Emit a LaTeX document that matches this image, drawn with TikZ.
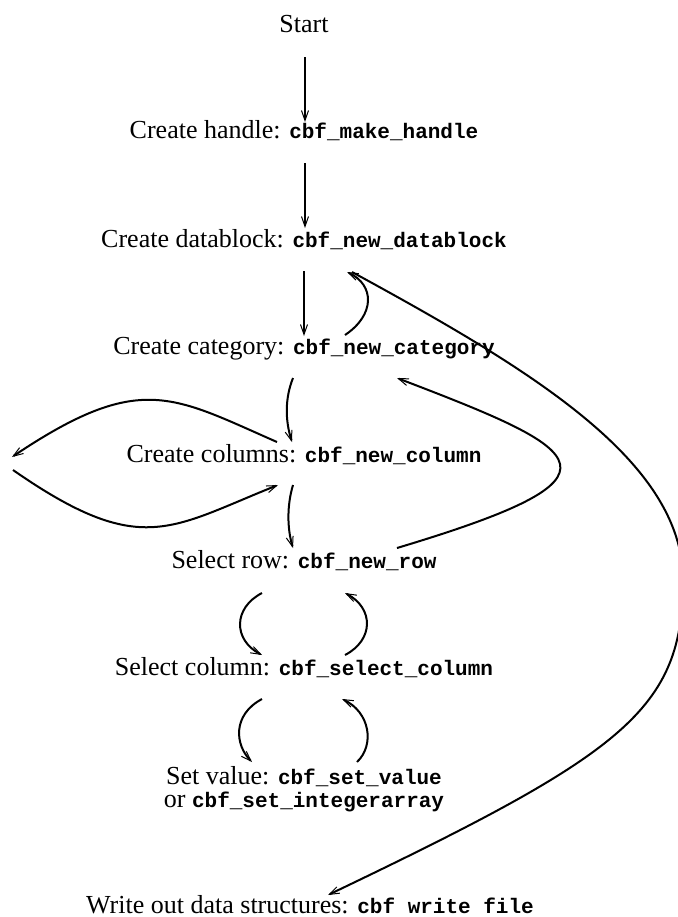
\documentclass[tikz,border=0pt]{standalone}
\usepackage{fontspec}
\setmainfont{Liberation Serif}
\setmonofont{Liberation Mono}
\usepackage{tikz}
\usetikzlibrary{calc,arrows.meta}

\newcommand{\cbf}[1]{{\fontsize{10.5}{11.5}\selectfont\ttfamily\bfseries #1}}

\begin{document}
\begin{tikzpicture}[x=0.5pt,y=-0.5pt,
            >={Straight Barb[length=5pt,width=3.5pt,line width=0.5pt]},
            lbl/.style={anchor=base,inner sep=0pt,font=\fontsize{13}{11.5}\selectfont},
            vline/.style={->,line width=1.4pt},
            cline/.style={->,line width=1pt}]
            \useasboundingbox (0,0) rectangle (677,917);

            \node[lbl] (start) at (304,32) {Start};
            \node[lbl] (handle) at (304,138) {Create handle: \cbf{cbf\_make\_handle}};
            \node[lbl] (dblock) at (304,247) {Create datablock: \cbf{cbf\_new\_datablock}};
            \node[lbl] (cat) at (304,354) {Create category: \cbf{cbf\_new\_category}};
            \node[lbl] (cols) at (304,462) {Create columns: \cbf{cbf\_new\_column}};
            \node[lbl] (row) at (304,568) {Select row: \cbf{cbf\_new\_row}};
            \node[lbl] (col) at (304,675) {Select column: \cbf{cbf\_select\_column}};
            % base is the last line here
            \node[lbl,align=center] (val) at (304,807) {Set value: \cbf{cbf\_set\_value}\\or \cbf{cbf\_set\_integerarray}};
            \node[lbl] (wfile) at (310,913) {Write out data structures: \cbf{cbf write file}};
            \coordinate (wa) at (12,457);
            \coordinate (wb) at (13,470);

            % straight down
            \draw[vline] ($(start.base)+(1,25)$) -- ($(handle.base)+(1,-16)$);
            \draw[vline] ($(handle.base)+(1,25)$) -- ($(dblock.base)+(1,-19)$);
            \draw[vline] ($(dblock.base)+(0,24)$) -- ($(cat.base)+(0,-18)$);

            \draw[cline] ($(cat.base)+(41,-19)$) .. controls (375,315) and (375,285) .. ($(dblock.base)+(43,25)$);
            \draw[cline] ($(dblock.base)+(48,25)$) .. controls (528,368) and (683,460) .. (683,580)
                .. controls (683,710) and (625,753) .. ($(wfile.base)+(18,-18)$);
            \draw[cline] ($(cat.base)+(-11,24)$) .. controls (285,398) and (285,420) .. ($(cols.base)+(-12,-20)$);

            % columns loop
            \draw[cline] ($(cols.base)+(-27,-20)$) .. controls (172,396) and (140,371) .. (wa);
            \draw[cline] (wb) .. controls (141,559) and (170,528) .. ($(cols.base)+(-26,23)$);

            \draw[cline] ($(cols.base)+(-11,23)$) .. controls (287,505) and (287,528) .. ($(row.base)+(-11,-20)$);
            \draw[cline] ($(row.base)+(93,-20)$) .. controls (637,476) and (591,452) .. ($(cat.base)+(93,24)$);

            \draw[cline] ($(row.base)+(-42,25)$) .. controls (233,608) and (233,640) .. ($(col.base)+(-42,-20)$);
            \draw[cline] ($(col.base)+(41,-20)$) .. controls (374,640) and (374,608) .. ($(row.base)+(41,25)$);
            \draw[cline] ($(col.base)+(-42,24)$) .. controls (232,715) and (235,745) .. ($(val.base)+(-52,-45)$);
            \draw[cline] ($(val.base)+(53,-45)$) .. controls (375,745) and (370,712) .. ($(col.base)+(38,24)$);
          \end{tikzpicture}
\end{document}
